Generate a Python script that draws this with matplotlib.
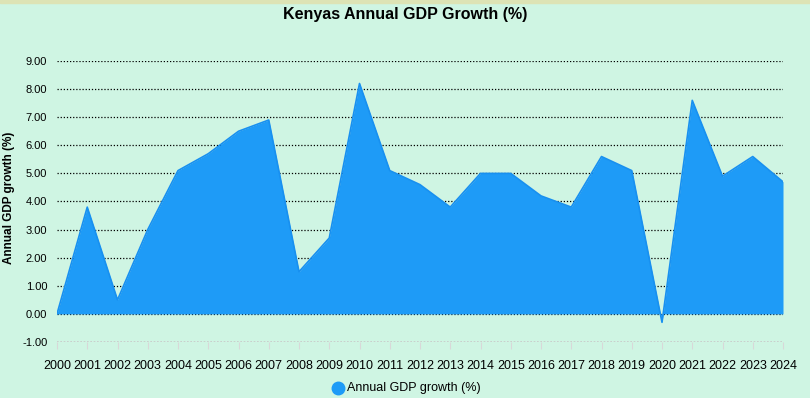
import matplotlib.pyplot as plt
from matplotlib.patches import Rectangle

plt.rcParams['font.family'] = ['Liberation Sans', 'DejaVu Sans']

years = list(range(2000, 2025))
growth = [0.0, 3.8, 0.5, 3.0, 5.1, 5.7, 6.5, 6.9, 1.5, 2.7, 8.2, 5.1, 4.6, 3.8,
          5.0, 5.0, 4.2, 3.8, 5.6, 5.1, -0.3, 7.6, 4.9, 5.6, 4.7]
yticks = [-1, 0, 1, 2, 3, 4, 5, 6, 7, 8, 9]

bg = '#cff5e3'
fill = '#1e9bf7'

fig = plt.figure(figsize=(8.1, 3.98), dpi=100, facecolor=bg)
W, H = 810, 398
ax = fig.add_axes([57 / W, 1 - 342 / H, (783 - 57) / W, (342 - 61) / H])
ax.set_facecolor(bg)

ax.fill_between(years, growth, 0, color=fill, linewidth=0, zorder=2)
ax.plot(years, growth, color='#1890f0', linewidth=1.2, zorder=3)

ax.set_xlim(years[0], years[-1])
ax.set_ylim(-1, 9)
ax.set_yticks(yticks)
ax.set_yticklabels([f'{v:.2f}' for v in yticks], fontsize=8)
ax.set_xticks(years)
ax.set_xticklabels([str(y) for y in years], fontsize=9)

for v in yticks[1:]:
    ax.axhline(v, color='black', linestyle=(0, (1, 1.5)), linewidth=0.9, zorder=1)
ax.axhline(-1, color='#c8c8c8', linestyle=(0, (1, 1)), linewidth=1.2, zorder=1)

for s in ax.spines.values():
    s.set_visible(False)
ax.tick_params(axis='y', length=0, pad=7)
ax.tick_params(axis='x', length=5, color='#d8d8d8', pad=8, direction='out')

fig.text(9 / W, 1 - 198 / H, 'Annual GDP growth (%)', rotation=90, ha='center', va='center',
         fontsize=8.5, fontweight='bold')

fig.text(0.5, 1 - 15 / H, 'Kenyas Annual GDP Growth (%)', ha='center', va='center',
         fontsize=11.5, fontweight='bold')

# legend
fig.lines.append(plt.Line2D([338 / W], [1 - 388 / H], marker='o', markersize=9,
                            color=fill, transform=fig.transFigure, linestyle='none'))
fig.text(347 / W, 1 - 388 / H, 'Annual GDP growth (%)', ha='left', va='center', fontsize=9)

# top border
fig.patches.append(Rectangle((0, 1 - 3 / H), 1, 3 / H, transform=fig.transFigure,
                             color='#dde3b5', zorder=0))

fig.savefig('out.png', dpi=100, facecolor=bg)
